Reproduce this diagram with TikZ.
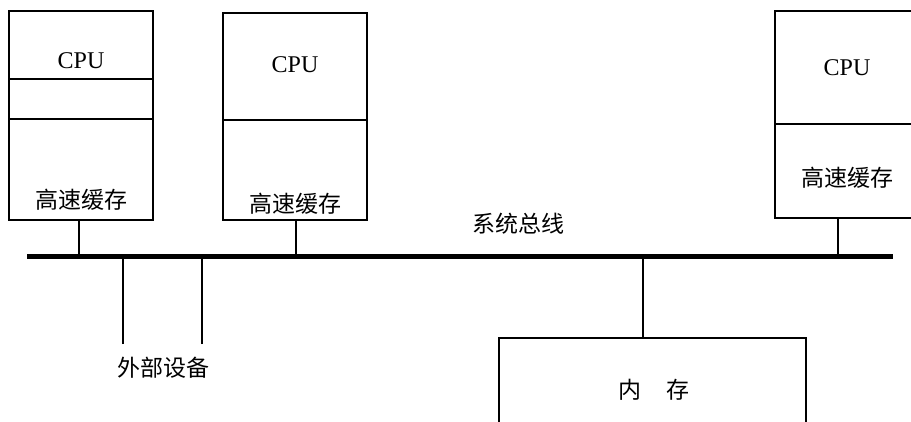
\documentclass[tikz,border=0pt]{standalone}
\usepackage{fontspec}
\setmainfont{Liberation Serif}
\newfontfamily\cjk{Noto Sans CJK SC}
\begin{document}
\begin{tikzpicture}[x=1pt,y=-1pt,
  box/.style={draw,line width=1.2pt},
  lbl/.style={font=\fontsize{23}{26}\selectfont\cjk, inner sep=0pt},
  cpulbl/.style={font=\fontsize{24}{27}\selectfont, inner sep=0pt},
  conn/.style={line width=1.2pt}]
\useasboundingbox (0,0) rectangle (911,421);
\clip (0,0) rectangle (911,421);
% box 1
\draw[box] (9,11) rectangle (153,220);
\draw[box] (9,79) -- (153,79);
\draw[box] (9,119) -- (153,119);
\node[cpulbl] (c1) at (81,61) {CPU};
\node[lbl] (k1) at (81,200) {高速缓存};
\coordinate (b1) at (79,220);
% box 2
\draw[box] (223,13) rectangle (367,220);
\draw[box] (223,120) -- (367,120);
\node[cpulbl] (c2) at (295,65) {CPU};
\node[lbl] (k2) at (295,204) {高速缓存};
\coordinate (b2) at (296,220);
% box 3
\draw[box] (775,11) rectangle (925,218);
\draw[box] (775,124) -- (925,124);
\node[cpulbl] (c3) at (847,68) {CPU};
\node[lbl] (k3) at (847,178) {高速缓存};
\coordinate (b3) at (838,218);
% memory
\draw[box] (499,338) rectangle (806,440);
\node[lbl] (mem) at (654,390) {内\hspace{1.1em}存};
\coordinate (bm) at (643,338);
% bus
\coordinate (busL) at (27,256);
\coordinate (busR) at (893,256);
\draw[line width=5pt] (busL) -- (busR);
\node[lbl] (bus) at (518,224) {系统总线};
% connectors
\draw[conn] (b1) -- (b1 |- busL);
\draw[conn] (b2) -- (b2 |- busL);
\draw[conn] (b3) -- (b3 |- busL);
\draw[conn] (bm) -- (bm |- busL);
\coordinate (e1) at (123,344);
\coordinate (e2) at (202,344);
\draw[conn] (e1) -- (e1 |- busL);
\draw[conn] (e2) -- (e2 |- busL);
\node[lbl] (ext) at (163,368) {外部设备};
\end{tikzpicture}
\end{document}
